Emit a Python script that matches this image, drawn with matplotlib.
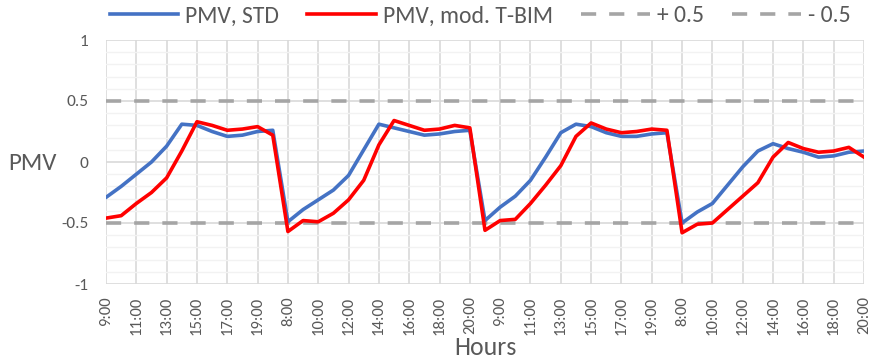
import matplotlib
matplotlib.use("Agg")
import matplotlib.pyplot as plt
from matplotlib.ticker import MultipleLocator, FixedLocator, FixedFormatter

# Hourly slots over four days
hours = (list(range(9, 21)) + list(range(8, 21)) + list(range(8, 21)) + list(range(8, 21)))
tick_labels = [f"{h}:00" for h in hours]

pmv_std = [-0.29, -0.20, -0.10, 0.00, 0.13, 0.31, 0.30, 0.25, 0.21, 0.22, 0.25, 0.26,
           -0.49, -0.39, -0.31, -0.23, -0.11, 0.10, 0.31, 0.28, 0.25, 0.22, 0.23, 0.25, 0.26,
           -0.48, -0.37, -0.28, -0.15, 0.04, 0.24, 0.31, 0.29, 0.24, 0.21, 0.21, 0.23, 0.24,
           -0.50, -0.41, -0.34, -0.19, -0.04, 0.09, 0.15, 0.11, 0.08, 0.04, 0.05, 0.08, 0.09]

pmv_tbim = [-0.46, -0.44, -0.34, -0.25, -0.13, 0.09, 0.33, 0.30, 0.26, 0.27, 0.29, 0.22,
            -0.57, -0.48, -0.49, -0.42, -0.31, -0.15, 0.14, 0.34, 0.30, 0.26, 0.27, 0.30, 0.28,
            -0.56, -0.48, -0.47, -0.34, -0.19, -0.03, 0.21, 0.32, 0.27, 0.24, 0.25, 0.27, 0.26,
            -0.58, -0.51, -0.50, -0.39, -0.28, -0.17, 0.04, 0.16, 0.11, 0.08, 0.09, 0.12, 0.04]

upper_limit = 0.5
lower_limit = -0.5

plt.rcParams["font.family"] = ["Carlito", "DejaVu Sans"]
text_color = "#595959"

fig = plt.figure(figsize=(8.75, 3.64), dpi=100)
ax = fig.add_axes([106 / 875, 1 - 284 / 364, 758 / 875, 244 / 364])

x = list(range(len(hours)))
lw = 2.6
l1, = ax.plot(x, pmv_std, color="#4472C4", lw=lw, solid_joinstyle="round", zorder=4)
l2, = ax.plot(x, pmv_tbim, color="#FF0000", lw=lw, solid_joinstyle="round", zorder=5)
l3, = ax.plot(x, [upper_limit] * len(x), color="#A5A5A5", lw=lw,
              dashes=(4.2, 3.6), zorder=3)
l4, = ax.plot(x, [lower_limit] * len(x), color="#A5A5A5", lw=lw,
              dashes=(4.2, 3.6), zorder=3)

ax.set_xlim(0, len(x) - 1)
ax.set_ylim(-1, 1)

major_pos = list(range(0, len(x), 2))
ax.xaxis.set_major_locator(FixedLocator(major_pos))
ax.xaxis.set_major_formatter(FixedFormatter([tick_labels[i] for i in major_pos]))
ax.yaxis.set_minor_locator(MultipleLocator(0.1))
ax.set_yticks([-1, -0.5, 0, 0.5, 1])
ax.set_yticklabels(["-1", "-0.5", "0", "0.5", "1"])

ax.grid(which="major", color="#D9D9D9", lw=1.2, zorder=1)
ax.grid(which="minor", axis="y", color="#F2F2F2", lw=1.0, zorder=0)
for s in ax.spines.values():
    s.set_visible(False)
ax.tick_params(which="both", length=0)
ax.tick_params(axis="x", labelrotation=90, labelsize=12, labelcolor=text_color, pad=9)
ax.tick_params(axis="y", labelsize=12.5, labelcolor=text_color, pad=12.5)

fig.text(8 / 875, 1 - 163 / 364, "PMV", fontsize=18, color=text_color,
         va="center", ha="left")
fig.text(485 / 875, 1 - 355 / 364, "Hours", fontsize=18.5, color=text_color,
         va="baseline", ha="center")

fig.legend([l1, l2, l3, l4], ["PMV, STD", "PMV, mod. T-BIM", "+ 0.5", "- 0.5"],
           ncol=4, loc="center", bbox_to_anchor=(480 / 875, 1 - 16 / 364),
           frameon=False, handlelength=2.9, handletextpad=0.3, columnspacing=1.2,
           borderpad=0, prop={"size": 17}, labelcolor=text_color)

fig.savefig("out.png", dpi=100)
